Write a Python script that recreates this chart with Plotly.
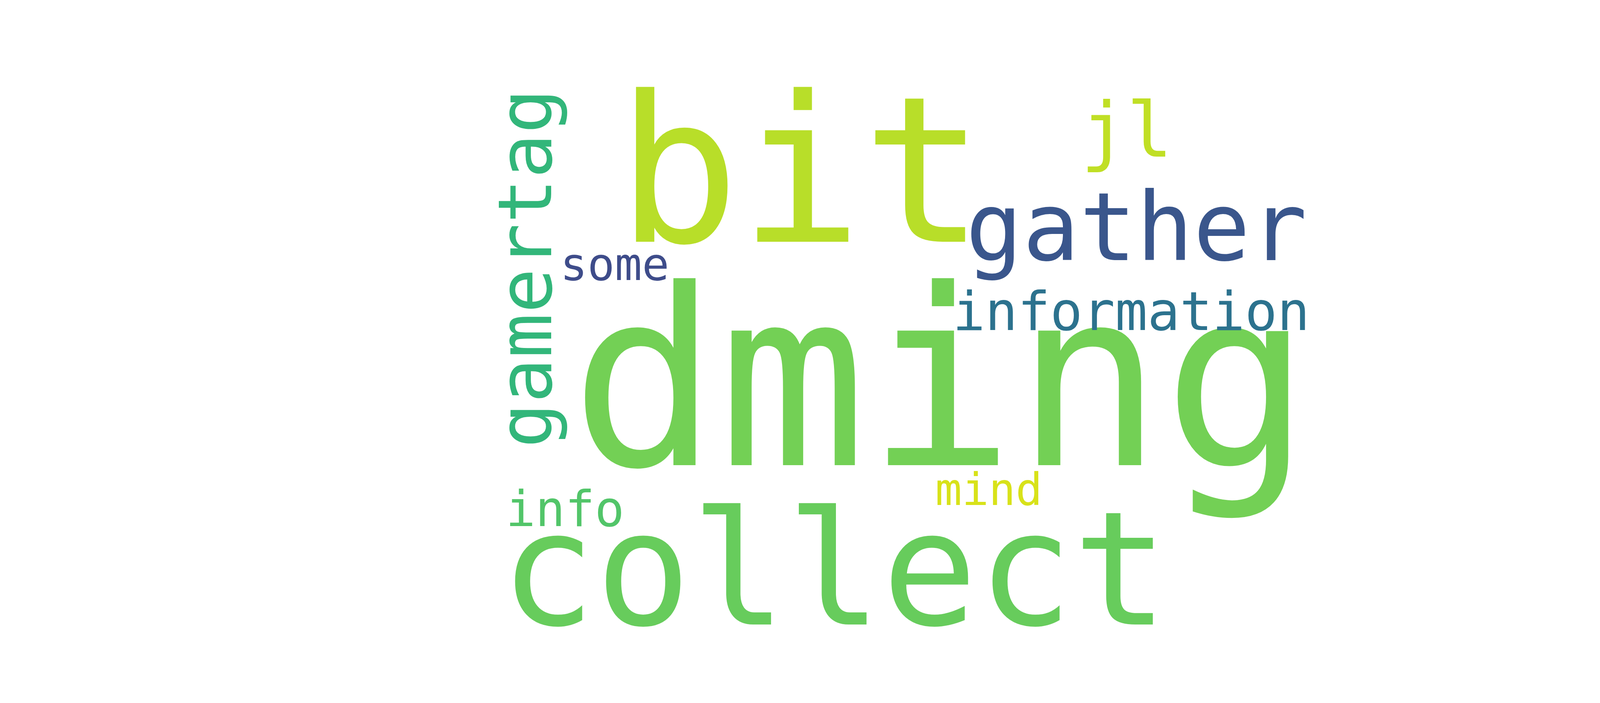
import plotly.graph_objs as go


# word cloud content
words = ["dming", "bit", "collect", "gather", "gamertag", "jl", "information", "info", "some", "mind"]
weights = [630, 522, 406, 242, 191, 195, 138, 126, 116, 114]
colors = ["#73d055", "#b8de29", "#67cc5c", "#3a568c", "#32b67a", "#c0df25", "#2c728e", "#52c569", "#3e4c8a", "#d8e219"]

# placement of each word (pixel grid of the 4500x1800 canvas)
pos_x = [2400, 2042, 2127, 2901, 1337, 2876, 2888, 1438, 1565, 2523]
pos_y = [965, 430, 1450, 574, 679, 325, 789, 1295, 668, 1245]
angles = [0, 0, 0, 0, -90, 0, 0, 0, 0, 0]

font_family = "DejaVu Sans Mono, monospace"

fig = go.Figure()

annotations = []
for word, size, color, x, y, angle in zip(words, weights, colors, pos_x, pos_y, angles):
    annotations.append(
        dict(
            x=x,
            y=y,
            xref="x",
            yref="y",
            text=word,
            showarrow=False,
            textangle=angle,
            xanchor="center",
            yanchor="middle",
            font=dict(family=font_family, size=size, color=color),
            borderpad=0,
        )
    )

fig.update_layout(
    width=4500,
    height=1800,
    margin=dict(l=0, r=0, t=0, b=0),
    paper_bgcolor="white",
    plot_bgcolor="white",
    showlegend=False,
    annotations=annotations,
    xaxis=dict(range=[0, 4500], visible=False, fixedrange=True),
    yaxis=dict(range=[1800, 0], visible=False, fixedrange=True),
)

fig.write_html("out.html")
